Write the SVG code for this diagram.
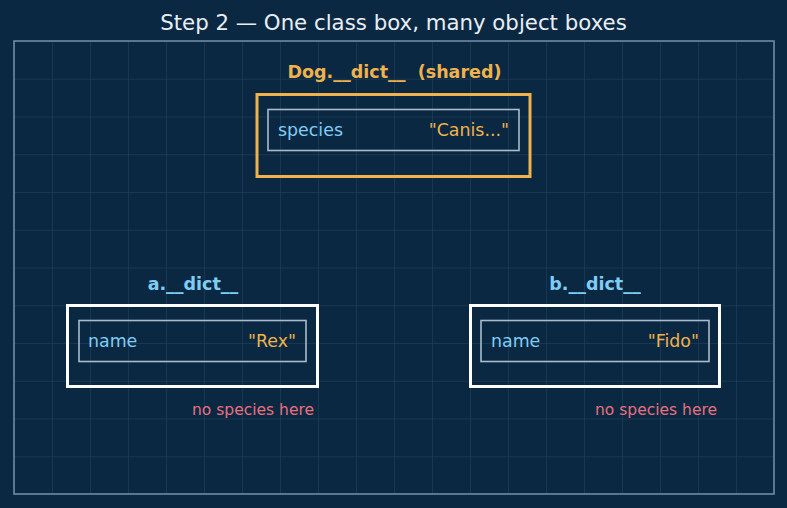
<svg xmlns="http://www.w3.org/2000/svg" width="787" height="508" viewBox="0 0 787 508">
<defs>
<pattern id="grid" x="14" y="41" width="38" height="37.75" patternUnits="userSpaceOnUse">
<path d="M0 0 H38 M0 0 V37.75" fill="none" stroke="#2a4c66" stroke-width="1" opacity="0.8"/>
</pattern>
</defs>
<style>
text{font-family:"DejaVu Sans","Liberation Sans",sans-serif}
.title{font-size:21.3px;fill:#e8eef4;text-anchor:middle}
.lbl{font-size:17.5px;font-weight:bold;text-anchor:middle}
.key{font-size:17.4px;fill:#7fcdf5}
.val{font-size:17.4px;fill:#f0b24c;text-anchor:end}
.note{font-size:15.5px;fill:#e8707e;text-anchor:end}
.inner{fill:none;stroke:#a8bccb;stroke-width:1.6}
.outer{fill:none;stroke-width:3}
</style>
<rect width="787" height="508" fill="#0b2842"/>
<text class="title" x="393.5" y="30">Step 2 — One class box, many object boxes</text>
<rect x="14" y="41" width="760" height="453" fill="url(#grid)"/>
<rect x="14" y="41" width="760" height="453" fill="none" stroke="#6d8ba3" stroke-width="1.6"/>
<g id="dog">
<text class="lbl" x="394.5" y="78" fill="#f0b24c" xml:space="preserve">Dog.__dict__  (shared)</text>
<rect class="outer" x="257" y="94.5" width="273" height="82" stroke="#f0b24c"/>
<rect class="inner" x="268" y="109.5" width="251" height="41"/>
<text class="key" x="278" y="136">species</text>
<text class="val" x="509" y="136">"Canis..."</text>
</g>
<g id="a">
<text class="lbl" x="193" y="290" fill="#7fcdf5">a.__dict__</text>
<rect class="outer" x="67.5" y="305.5" width="250" height="81" stroke="#ffffff"/>
<rect class="inner" x="79" y="320.5" width="227" height="41"/>
<text class="key" x="88" y="347">name</text>
<text class="val" x="296" y="347">"Rex"</text>
<text class="note" x="314" y="415">no species here</text>
</g>
<g id="b">
<text class="lbl" x="595" y="290" fill="#7fcdf5">b.__dict__</text>
<rect class="outer" x="470.5" y="305.5" width="249" height="81" stroke="#ffffff"/>
<rect class="inner" x="481" y="320.5" width="228" height="41"/>
<text class="key" x="491" y="347">name</text>
<text class="val" x="699" y="347">"Fido"</text>
<text class="note" x="717" y="415">no species here</text>
</g>
<g id="connectors"></g>
</svg>
